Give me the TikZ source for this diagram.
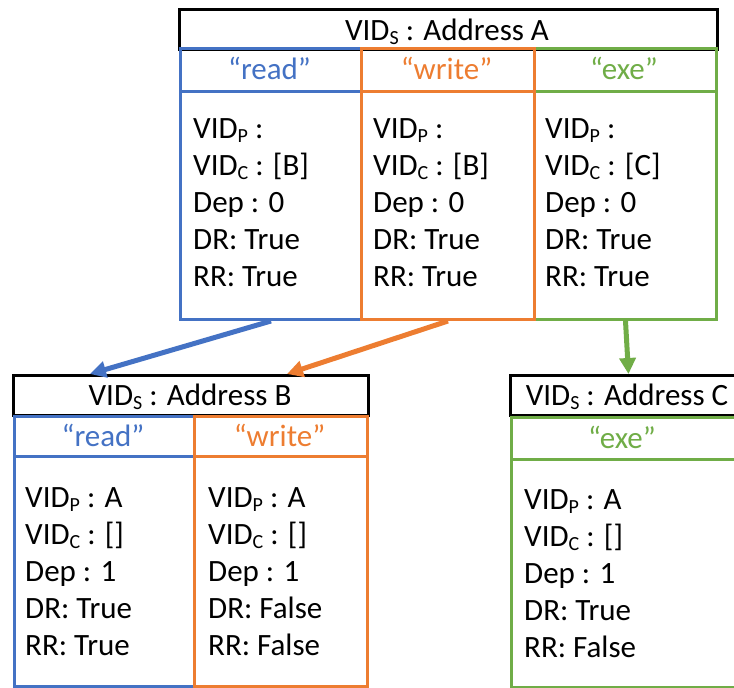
\documentclass[tikz,border=0pt]{standalone}
\usepackage{fontspec}
\setmainfont{Carlito}
\usetikzlibrary{arrows.meta}

\definecolor{rdblue}{HTML}{4472C4}
\definecolor{wrorange}{HTML}{ED7D31}
\definecolor{exgreen}{HTML}{70AD47}

% lowered small subscript letter (VID_S, VID_P, VID_C)
\newcommand\lowsub[1]{\raisebox{-4pt}{\fontsize{20}{20}\selectfont #1}}

% five field lines of one permission column, 37pt apart
\newcommand\fieldcol[8]{%
  \node[field] (#1-1) at (#2,#3) {#4};
  \node[field] (#1-2) at (#2,#3+37) {#5};
  \node[field] (#1-3) at (#2,#3+74) {#6};
  \node[field] (#1-4) at (#2,#3+111) {#7};
  \node[field] (#1-5) at (#2,#3+148) {#8};
}

\begin{document}
\begin{tikzpicture}[x=1pt,y=-1pt,
  titlebox/.style={draw=black, line width=3pt, anchor=north west, inner sep=0pt},
  colbox/.style={draw=#1, line width=3pt, anchor=north west, inner sep=0pt},
  titletext/.style={anchor=base, inner sep=0pt, font=\fontsize{31}{37}\selectfont},
  headtext/.style={anchor=base, inner sep=0pt, text=#1, font=\fontsize{31}{37}\selectfont},
  field/.style={anchor=base west, inner sep=0pt, font=\fontsize{31}{37}\selectfont},
  link/.style={draw=#1, line width=5pt, -{Triangle[length=16pt,width=16pt]}}
]
\useasboundingbox (0,0) rectangle (734,688);

% ---------- Address A ----------
\node[titlebox, minimum width=538pt, minimum height=40pt] (Atitle) at (178,8) {};
\node[titletext] (Atitletext) at (447,40) {VID\lowsub{S} : Address A};

\node[colbox=rdblue, minimum width=181pt, minimum height=43pt] (Areadh) at (179,47) {};
\node[colbox=rdblue, minimum width=181pt, minimum height=228pt] (Areadb) at (179,90) {};
\node[colbox=exgreen, minimum width=182pt, minimum height=43pt] (Aexeh) at (533,47) {};
\node[colbox=exgreen, minimum width=182pt, minimum height=228pt] (Aexeb) at (533,90) {};
\node[colbox=wrorange, minimum width=173pt, minimum height=43pt] (Awriteh) at (360,47) {};
\node[colbox=wrorange, minimum width=173pt, minimum height=228pt] (Awriteb) at (360,90) {};

\node[headtext=rdblue] (Areadt) at (269.5,79) {“read”};
\node[headtext=wrorange] (Awritet) at (446.5,79) {“write”};
\node[headtext=exgreen] (Aexet) at (624,79) {“exe”};

\fieldcol{Ar}{193}{138}{VID\lowsub{P} :}{VID\lowsub{C} : [B]}{Dep : 0}{DR: True}{RR: True}
\fieldcol{Aw}{373}{138}{VID\lowsub{P} :}{VID\lowsub{C} : [B]}{Dep : 0}{DR: True}{RR: True}
\fieldcol{Ae}{545}{138}{VID\lowsub{P} :}{VID\lowsub{C} : [C]}{Dep : 0}{DR: True}{RR: True}

% ---------- Address B ----------
\node[titlebox, minimum width=355pt, minimum height=40pt] (Btitle) at (12,374) {};
\node[titletext] (Btitletext) at (190,405) {VID\lowsub{S} : Address B};

\node[colbox=rdblue, minimum width=180pt, minimum height=40pt] (Breadh) at (13,415) {};
\node[colbox=rdblue, minimum width=180pt, minimum height=230pt] (Breadb) at (13,455) {};
\node[colbox=wrorange, minimum width=173pt, minimum height=40pt] (Bwriteh) at (193,415) {};
\node[colbox=wrorange, minimum width=173pt, minimum height=230pt] (Bwriteb) at (193,455) {};

\node[headtext=rdblue] (Breadt) at (103,446) {“read”};
\node[headtext=wrorange] (Bwritet) at (279.5,446) {“write”};

\fieldcol{Br}{25}{507}{VID\lowsub{P} : A}{VID\lowsub{C} : []}{Dep : 1}{DR: True}{RR: True}
\fieldcol{Bw}{208}{507}{VID\lowsub{P} : A}{VID\lowsub{C} : []}{Dep : 1}{DR: False}{RR: False}

% ---------- Address C ----------
\node[titlebox, minimum width=236pt, minimum height=40pt] (Ctitle) at (509,374) {};
\node[titletext] (Ctitletext) at (627,405) {VID\lowsub{S} : Address C};

\node[colbox=exgreen, minimum width=236pt, minimum height=42pt] (Cexeh) at (510,416) {};
\node[colbox=exgreen, minimum width=236pt, minimum height=228pt] (Cexeb) at (510,458) {};

\node[headtext=exgreen] (Cexet) at (622,448) {“exe”};

\fieldcol{Ce}{524}{509}{VID\lowsub{P} : A}{VID\lowsub{C} : []}{Dep : 1}{DR: True}{RR: False}

% ---------- links from parent permissions to child addresses ----------
\coordinate (Bread) at ([xshift=78pt]Btitle.north west);
\coordinate (Bwrite) at ([xshift=275pt]Btitle.north west);
\draw[link=rdblue] (Areadb.south) -- (Bread);
\draw[link=wrorange] (Awriteb.south) -- (Bwrite);
\draw[link=exgreen] (Aexeb.south) -- (Ctitle.north);
\end{tikzpicture}
\end{document}
